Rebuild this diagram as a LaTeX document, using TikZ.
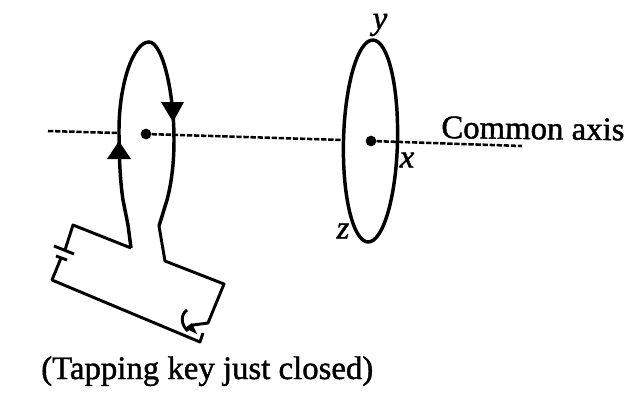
\documentclass[tikz,border=0pt]{standalone}
\usepackage{fontspec}
\setmainfont{Liberation Serif}[RawFeature={embolden=1.3}]
\usepackage{xcolor}
\definecolor{DarkInk}{HTML}{000000}
\usetikzlibrary{calc,positioning}
\newcommand\Unit{0.75pt}
\newcommand\RingA{2.6pt}
\newcommand\WireW{2.2pt}
\tikzstyle{ring}=[draw=DarkInk,line width=\RingA]
\tikzstyle{wire}=[draw=DarkInk,line width=\WireW,line join=round]
\tikzstyle{axisline}=[draw=DarkInk,line width=1.9pt,dash pattern=on 4pt off 1.3pt]
\tikzstyle{centre}=[circle,fill=DarkInk,inner sep=0pt,minimum size=8pt]
\tikzstyle{tag}=[inner sep=0pt,text=DarkInk,font=\fontsize{24.6}{28}\selectfont]
\tikzstyle{slanted}=[font=\fontsize{24.6}{28}\selectfont\itshape]
\begin{document}
\begin{tikzpicture}[x=\Unit,y=-\Unit]
      \useasboundingbox (0,0) rectangle (640,408);
      % centres and axis
      \node[centre] (dotA) at (146,134) {};
      \node[centre] (dotB) at (371,141) {};
      \coordinate (axisL) at (48,131);
      \coordinate (axisLend) at (118,133);
      \coordinate (axisM) at (343,140);
      \coordinate (axisR) at (522,146);
      \draw[axisline] (axisL) -- (axisLend);
      \draw[axisline] (dotA) -- (axisM);
      \draw[axisline] (dotB) -- (axisR);
      % second ring
      \draw[ring] (370.5,141) ellipse [x radius=27,y radius=101,rotate=-1.4];
      % first ring with the leads
      \coordinate (leadL) at (131,248);
      \coordinate (leadR) at (159,226);
      \draw[ring] (leadL) -- (128,225) -- (123,200) .. controls (120,180) and (119,155) .. (119,130)
         .. controls (119,85) and (133,42) .. (149,42) .. controls (162,42) and (174,90) .. (174,140)
         .. controls (174,165) and (171,185) .. (167,200) -- (leadR);
      \fill[DarkInk] (161,102) -- (184,102) -- (173,122) -- cycle;
      \fill[DarkInk] (119,141) -- (107,159) -- (131,159) -- cycle;
      % circuit
      \coordinate (cornerA) at (73,225);
      \coordinate (cellA) at (65,250);
      \coordinate (cellB) at (61,258);
      \coordinate (cornerB) at (52,280);
      \coordinate (keyA) at (200,342);
      \coordinate (keyB) at (203,333);
      \coordinate (cornerC) at (165,261);
      \coordinate (cornerD) at (224,284);
      \coordinate (cornerE) at (208,323);
      \coordinate (keyC) at (193,325);
      \coordinate (keyD) at (187,329);
      \draw[wire] (leadL) -- (cornerA) -- (cellA);
      \draw[wire] (cellB) -- (cornerB) -- (keyA) -- (keyB);
      \draw[wire] (leadR) -- (cornerC) -- (cornerD) -- (cornerE) -- (keyC) -- (keyD);
      \draw[wire] (54,246) -- (74,254);
      \draw[wire] (56,256) -- (67,260);
      \draw[wire] (187,310) .. controls (180,315) and (181,325) .. (188,331);
      \fill[DarkInk] (185,328) -- (197,334) -- (192,323) -- cycle;
      % labels
      \node[tag,slanted] (labY) at (380,25) {y};
      \node[tag,slanted] (labX) at (407,160) {x};
      \node[tag,slanted] (labZ) at (343,231) {z};
      \node[tag,anchor=base west,rotate=-0.7] (labAxis) at (441,138) {Common axis};
      \node[tag,anchor=base west] (labKey) at (41,379) {(Tapping key just closed)};
   \end{tikzpicture}
\end{document}
